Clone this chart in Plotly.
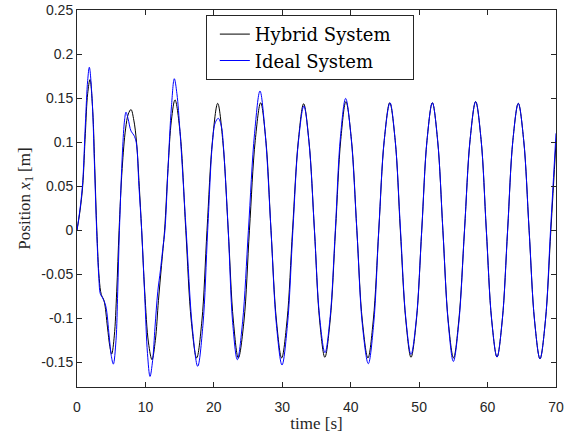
import plotly.graph_objects as go

# ---- data ----
hybrid_t = [0.0, 0.44, 0.83, 1.22, 1.56, 1.9, 2.3, 2.6, 2.9, 3.25, 3.55, 3.95, 4.45, 4.8, 5.07,
            5.45, 5.8, 6.15, 6.6, 7.1, 7.5, 7.89, 8.3, 8.7, 9.1, 9.45, 9.9, 10.45, 10.96,
            11.45, 11.9, 12.35, 12.8, 13.3, 13.8, 14.32, 15.05, 15.9, 16.7, 17.49,
            18.25, 19.0, 19.8, 20.56, 21.3, 22.1, 22.85, 23.58, 24.4, 25.2, 26.05, 26.84,
            27.6, 28.35, 29.15, 29.91, 30.7, 31.5, 32.35, 33.12, 33.9, 34.7, 35.45, 36.22,
            37.0, 37.78, 38.55, 39.3, 40.1, 40.9, 41.7, 42.52, 43.3, 44.1, 44.9, 45.7,
            46.5, 47.25, 48.05, 48.81, 49.6, 50.38, 51.15, 51.93, 52.7, 53.47, 54.25, 55.03,
            55.8, 56.63, 57.45, 58.26, 59.05, 59.82, 60.6, 61.38, 62.15, 62.93, 63.7, 64.49,
            65.28, 66.07, 66.87, 67.66, 68.45, 69.25, 70.0]
hybrid_x1 = [0.0, 0.022, 0.05, 0.11, 0.155, 0.171, 0.135, 0.07, 0.0, -0.055, -0.073, -0.08, -0.11, -0.132, -0.1405,
             -0.12, -0.07, 0.0, 0.07, 0.115, 0.132, 0.137, 0.125, 0.1, 0.05, 0.0, -0.07, -0.128, -0.147,
             -0.125, -0.08, -0.04, 0.0, 0.07, 0.125, 0.148, 0.112, 0.0, -0.103, -0.145,
             -0.103, 0.0, 0.102, 0.144, 0.102, 0.0, -0.103, -0.145, -0.103, 0.0, 0.102, 0.1447,
             0.102, 0.0, -0.103, -0.145, -0.102, 0.0, 0.102, 0.1436, 0.101, 0.0, -0.102, -0.1443,
             -0.102, 0.0, 0.103, 0.146, 0.103, 0.0, -0.103, -0.145, -0.102, 0.0, 0.102, 0.1447,
             0.102, 0.0, -0.102, -0.1443, -0.102, 0.0, 0.102, 0.1447, 0.102, 0.0, -0.103, -0.145,
             -0.102, 0.0, 0.103, 0.146, 0.103, 0.0, -0.102, -0.144, -0.102, 0.0, 0.102, 0.144,
             0.102, 0.0, -0.103, -0.146, -0.103, 0.0, 0.10]

ideal_t = [0.0, 0.44, 0.83, 1.22, 1.56, 1.8, 2.2, 2.55, 2.87, 3.2, 3.4, 3.75, 4.2, 4.7, 5.0, 5.31,
           5.7, 5.95, 6.2, 6.65, 6.95, 7.16, 7.45, 7.9, 8.3, 8.65, 9.05, 9.45, 9.9, 10.3, 10.67,
           11.05, 11.4, 11.8, 12.2, 12.55, 12.85, 13.3, 13.8, 14.22, 14.6, 15.05, 15.95, 16.85, 17.64,
           18.4, 19.1, 19.8, 20.2, 20.65, 21.1, 21.4, 22.1, 22.75, 23.43, 24.2, 25.05, 25.95, 26.74,
           27.5, 28.35, 29.15, 29.96, 30.75, 31.55, 32.35, 33.15, 33.9, 34.7, 35.45, 36.24,
           37.0, 37.75, 38.5, 39.26, 40.05, 40.9, 41.7, 42.57, 43.35, 44.1, 44.9, 45.74,
           46.5, 47.28, 48.05, 48.81, 49.6, 50.38, 51.15, 51.93, 52.7, 53.47, 54.25, 55.0,
           55.8, 56.63, 57.45, 58.26, 59.05, 59.82, 60.6, 61.38, 62.15, 62.93, 63.7, 64.49,
           65.28, 66.07, 66.87, 67.66, 68.45, 69.2, 70.0]
ideal_x1 = [0.0, 0.024, 0.054, 0.12, 0.17, 0.185, 0.15, 0.075, 0.0, -0.055, -0.072, -0.077, -0.086, -0.12, -0.142, -0.152,
            -0.125, -0.07, 0.0, 0.09, 0.125, 0.134, 0.127, 0.1125, 0.108, 0.1, 0.05, 0.0, -0.075, -0.14, -0.166,
            -0.148, -0.11, -0.07, -0.045, -0.02, 0.0, 0.07, 0.14, 0.172, 0.155, 0.112, 0.0, -0.11, -0.1545,
            -0.108, 0.0, 0.1, 0.122, 0.127, 0.118, 0.095, 0.0, -0.105, -0.147, -0.104, 0.0, 0.11, 0.158,
            0.11, 0.0, -0.108, -0.153, -0.108, 0.0, 0.1, 0.141, 0.1, 0.0, -0.098, -0.139,
            -0.098, 0.0, 0.106, 0.1496, 0.106, 0.0, -0.107, -0.1515, -0.107, 0.0, 0.102, 0.1447,
            0.102, 0.0, -0.1, -0.141, -0.1, 0.0, 0.102, 0.1447, 0.102, 0.0, -0.105, -0.149,
            -0.105, 0.0, 0.103, 0.146, 0.103, 0.0, -0.102, -0.144, -0.102, 0.0, 0.102, 0.144,
            0.102, 0.0, -0.103, -0.146, -0.103, 0.0, 0.11]

x_ticks = [0, 10, 20, 30, 40, 50, 60, 70]
y_ticks = [-0.15, -0.1, -0.05, 0, 0.05, 0.1, 0.15, 0.2, 0.25]
y_tick_labels = ["-0.15", "-0.1", "-0.05", "0", "0.05", "0.1", "0.15", "0.2", "0.25"]

AX = "#262626"
SERIF = "Liberation Serif, Times New Roman, serif"
LEG_SERIF = "DejaVu Serif, Liberation Serif, serif"
SANS = "Liberation Sans, Arial, Helvetica, sans-serif"
PAD = "\u00a0" * 3

fig = go.Figure()
fig.add_trace(go.Scatter(x=hybrid_t, y=hybrid_x1, mode="lines", name="Hybrid System" + PAD,
                         line=dict(color="#000000", width=1, shape="spline", smoothing=1.0)))
fig.add_trace(go.Scatter(x=ideal_t, y=ideal_x1, mode="lines", name="Ideal System" + PAD,
                         line=dict(color="#0000FF", width=1, shape="spline", smoothing=1.0)))

axis_common = dict(showline=True, linecolor=AX, linewidth=1, mirror="ticks",
                   ticks="inside", ticklen=5, tickwidth=1, tickcolor=AX,
                   showgrid=False, zeroline=False, automargin=False,
                   tickfont=dict(family=SANS, size=14, color=AX))

fig.update_layout(
    width=574, height=433,
    margin=dict(l=77, r=18, t=10, b=46),
    paper_bgcolor="white", plot_bgcolor="white",
    xaxis=dict(range=[0, 70], tickvals=x_ticks, ticklabelstandoff=7,
               title=dict(text="time [s]", font=dict(family=SERIF, size=17, color=AX), standoff=8),
               **axis_common),
    yaxis=dict(range=[-0.178, 0.25], tickvals=y_ticks, ticktext=y_tick_labels,
               title=dict(text="Position <i>x</i><sub>1</sub> [m]", font=dict(family=SERIF, size=17, color=AX), standoff=6),
               **axis_common),
    legend=dict(x=0.269, y=0.987, xanchor="left", yanchor="top",
                bgcolor="white", bordercolor=AX, borderwidth=1,
                font=dict(family=LEG_SERIF, size=18, color="#000000"),
                itemwidth=30, indentation=8, tracegroupgap=0),
    showlegend=True,
)

fig.write_html("out.html")
